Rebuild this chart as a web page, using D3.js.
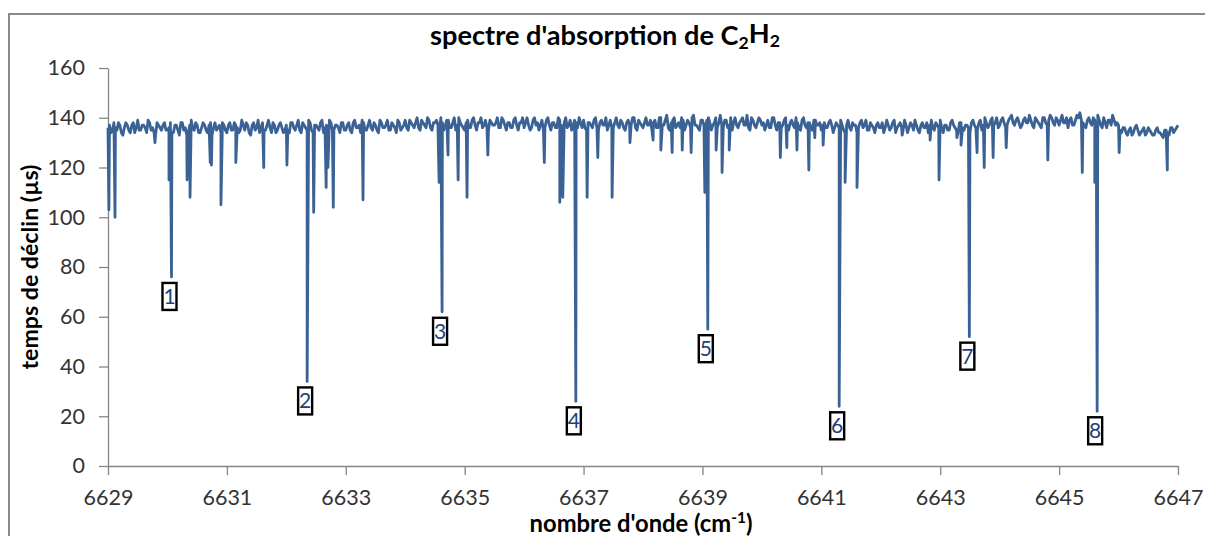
<!DOCTYPE html>
<html>
<head>
<meta charset="utf-8">
<script src="https://cdn.jsdelivr.net/npm/d3@7"></script>
<style>
  html, body { margin: 0; padding: 0; background: #fff; }
  svg { display: block; }
</style>
</head>
<body>
<svg id="chart" width="1205" height="536"></svg>
<script>
// ---------------- DATA ----------------
const xTicks = [6629, 6631, 6633, 6635, 6637, 6639, 6641, 6643, 6645, 6647];
const yTicks = [0, 20, 40, 60, 80, 100, 120, 140, 160];

// baseline (noise) read every 0.05 cm-1 from 6629.00 to 6647.00
const baseStart = 6629;
const baseStep = 0.05;
const baseline = [
  136,134,138,135,137,133,138,135,137,134,139,135,137,134,138,136,133,137,135,138,
  135,138,134,137,133,138,136,134,139,135,137,134,138,135,137,133,138,136,134,137,
  134,138,135,137,134,139,135,137,133,138,136,134,138,135,139,134,137,135,138,134,
  137,134,138,135,139,134,137,135,138,134,137,135,139,136,134,138,135,137,134,138,
  135,138,134,139,136,134,138,135,139,135,137,134,138,136,139,135,137,134,138,136,
  139,135,138,136,140,135,138,136,139,135,138,137,140,135,139,136,138,135,140,137,
  135,139,136,140,135,138,136,139,135,138,137,140,136,139,135,138,136,140,135,138,
  136,140,135,139,137,135,139,136,140,135,138,136,139,135,140,137,135,139,136,138,
  139,135,138,136,140,135,139,137,135,139,136,140,136,138,135,139,137,140,135,138,
  136,140,137,135,139,136,140,137,141,135,139,136,138,140,135,139,136,141,137,135,
  139,136,140,135,138,136,141,136,139,137,135,140,136,139,137,141,135,139,136,140,
  137,135,139,136,140,135,138,137,140,135,139,136,138,135,140,136,138,135,139,137,
  135,138,136,139,134,138,136,137,134,139,135,137,134,138,136,139,135,137,134,138,
  136,134,139,135,138,134,137,136,139,134,138,135,137,134,138,136,134,139,135,137,
  139,134,137,135,139,136,134,138,135,137,134,139,136,138,135,140,136,139,137,140,
  137,140,136,139,141,137,140,136,139,138,141,137,140,138,136,140,137,141,138,140,
  137,141,138,136,140,137,141,142,138,136,140,137,139,141,137,140,136,139,141,137,
  137,134,136,133,136,134,137,133,135,133,136,134,133,136,134,132,135,133,136,135,
  137
];
// baseline values read half-way between the points above (6629.025, 6629.075, ...)
const baselineMid = [
  137,135,136,138,134,136,137,134,138,136,135,137,136,139,135,134,138,136,137,135,
  136,134,137,135,138,135,133,137,136,138,134,136,137,134,138,136,135,137,138,135,
  137,135,138,136,135,137,138,134,137,135,139,136,135,137,136,138,134,137,136,135,
  135,138,136,137,135,138,136,139,135,137,136,138,134,137,139,135,137,136,138,135,
  137,135,138,136,137,139,135,137,136,138,135,139,136,137,135,138,136,139,135,137,
  136,139,137,138,136,139,137,140,136,138,139,135,138,137,139,136,140,137,138,136,
  138,136,139,137,138,140,137,136,139,137,138,136,140,137,138,136,139,137,138,140,
  138,137,136,140,138,137,135,139,137,138,136,140,137,138,136,139,137,138,140,136,
  136,138,137,139,136,138,137,140,137,136,138,137,139,136,138,137,140,136,139,137,
  138,137,139,138,136,140,137,139,136,138,140,137,136,139,137,138,140,137,136,139,
  137,139,138,137,140,138,137,139,136,140,138,137,138,140,137,136,140,137,138,139,
  138,137,136,140,137,138,136,139,137,138,137,140,136,139,137,138,136,139,137,138,
  137,136,138,137,136,137,139,135,137,136,138,137,136,139,137,135,138,136,137,136,
  138,136,137,136,139,136,138,135,137,136,137,139,135,137,136,138,137,136,138,136,
  136,137,135,138,137,135,138,136,137,136,138,137,135,139,137,138,137,140,138,136,
  139,138,137,140,138,139,138,137,140,138,139,136,139,137,140,138,139,140,137,139,
  139,138,140,139,137,139,140,139,137,139,138,140,138,139,136,138,139,137,139,138,
  135,136,134,135,133,136,135,134,136,134,135,133,135,134,133,135,134,136,134,136
];

// numbered absorption lines: wavenumber (cm-1) and minimum decay time (µs)
const peakNumbers = ["1", "2", "3", "4", "5", "6", "7", "8"];
const peakWavenumbers = [6630.068, 6632.35, 6634.62, 6636.87, 6639.09, 6641.30, 6643.49, 6645.64];
const peakMinima = [76, 34, 62, 26, 55, 24, 52, 22];

// weaker absorption lines: [wavenumber, decay time]
const minorLines = [
  [6629.015,103],[6629.118,100],[6629.79,130],[6630.026,115],[6630.33,115],[6630.38,108],
  [6630.72,122],[6630.74,121],[6630.90,105],[6631.15,122],[6631.62,120],[6632.01,121],
  [6632.46,102],[6632.67,112],[6632.70,120],[6632.79,104],[6633.29,107],[6634.57,114],
  [6634.72,125],[6634.89,115],[6635.04,108],[6635.39,125],[6636.34,122],[6636.60,106],
  [6636.65,108],[6637.06,108],[6637.24,124],[6637.48,108],[6637.78,130],[6638.17,131],
  [6638.30,127],[6638.49,126],[6638.66,127],[6638.81,126],[6639.04,110],[6639.23,127],
  [6639.33,118],[6639.45,127],[6640.31,124],[6640.42,128],[6640.59,127],[6640.79,119],
  [6640.89,132],[6641.03,129],[6641.40,114],[6641.60,112],[6642.36,133],[6642.83,131],
  [6642.98,115],[6643.28,132],[6643.35,129],[6643.62,126],[6643.74,120],[6643.89,124],
  [6644.11,128],[6644.81,123],[6645.39,118],[6645.60,114],[6646.01,126],[6646.82,119]
];

// ---------------- CHART ----------------
const svg = d3.select("#chart");
const FONT = "Lato, 'Open Sans', sans-serif";
const LINE_COLOR = "#3A6294";
const AXIS_COLOR = "#868686";

// outer chart frame
svg.append("rect")
  .attr("x", 9).attr("y", 14).attr("width", 1210).attr("height", 540)
  .attr("fill", "none").attr("stroke", "#8a8a8a").attr("stroke-width", 2);

const x = d3.scaleLinear().domain([6629, 6647]).range([108, 1178]);
const y = d3.scaleLinear().domain([0, 160]).range([466, 68]);

// merge the series
const series = baseline.map((v, i) => [baseStart + i * baseStep, v])
  .concat(baselineMid.map((v, i) => [baseStart + (i + 0.5) * baseStep, v]))
  .concat(minorLines)
  .concat(peakWavenumbers.map((w, i) => [w, peakMinima[i]]))
  .sort((a, b) => a[0] - b[0]);

// axes
const yAxis = d3.axisLeft(y).tickValues(yTicks).tickSize(9).tickPadding(14).tickSizeOuter(0);
const gy = svg.append("g").attr("transform", `translate(${x.range()[0]},0)`).call(yAxis);
const xAxis = d3.axisBottom(x).tickValues(xTicks).tickFormat(d3.format("d")).tickSize(9).tickPadding(15).tickSizeOuter(0);
const gx = svg.append("g").attr("transform", `translate(0,${y(0)})`).call(xAxis);
[gx, gy].forEach(g => {
  g.selectAll("path.domain").attr("stroke", AXIS_COLOR).attr("stroke-width", 1.3);
  g.selectAll(".tick line").attr("stroke", AXIS_COLOR).attr("stroke-width", 1.3);
  g.selectAll(".tick text").attr("font-family", FONT).attr("font-size", 21.5).attr("fill", "#333");
});

// data line
const line = d3.line().x(d => x(d[0])).y(d => y(d[1]));
svg.append("path")
  .datum(series)
  .attr("d", line)
  .attr("fill", "none")
  .attr("stroke", LINE_COLOR)
  .attr("stroke-width", 2.8)
  .attr("stroke-linejoin", "round");

// peak labels (boxed numbers below each line minimum)
const lab = svg.append("g").selectAll("g").data(peakNumbers).join("g")
  .attr("transform", (d, i) => `translate(${x(peakWavenumbers[i]) - 2},${y(peakMinima[i]) + 6})`);
lab.append("rect")
  .attr("x", -7).attr("y", 0).attr("width", 14).attr("height", 27)
  .attr("fill", "#fff").attr("stroke", "#000").attr("stroke-width", 2.4);
lab.append("text")
  .attr("x", 0).attr("y", 21)
  .attr("text-anchor", "middle")
  .attr("font-family", FONT).attr("font-size", 21)
  .attr("fill", "#1F3F7A")
  .text(d => d);

function fitWidth(sel, target) {
  const fs = parseFloat(sel.attr("font-size"));
  const w = sel.node().getComputedTextLength();
  sel.attr("font-size", fs * target / w);
}

// title
const title = svg.append("text")
  .attr("x", 605).attr("y", 45)
  .attr("text-anchor", "middle")
  .attr("font-family", FONT).attr("font-weight", "bold").attr("font-size", 22)
  .attr("fill", "#000");
title.append("tspan").text("spectre d'absorption de C");
title.append("tspan").attr("font-size", "65%").attr("dy", "0.25em").text("2");
title.append("tspan").attr("dy", "-0.25em").text("H");
title.append("tspan").attr("font-size", "65%").attr("dy", "0.25em").text("2");
fitWidth(title, 350);

// x axis title
const xt = svg.append("text")
  .attr("x", 641).attr("y", 532)
  .attr("text-anchor", "middle")
  .attr("font-family", FONT).attr("font-weight", "bold").attr("font-size", 20)
  .attr("fill", "#000");
xt.append("tspan").text("nombre d'onde (cm");
xt.append("tspan").attr("font-size", "65%").attr("dy", "-0.55em").text("-1");
xt.append("tspan").attr("dy", "0.35em").text(")");
fitWidth(xt, 223);

// y axis title
const yt = svg.append("text")
  .attr("transform", "translate(38,267) rotate(-90)")
  .attr("text-anchor", "middle")
  .attr("font-family", FONT).attr("font-weight", "bold").attr("font-size", 20)
  .attr("fill", "#000")
  .text("temps de déclin (µs)");
fitWidth(yt, 205);
</script>
</body>
</html>
